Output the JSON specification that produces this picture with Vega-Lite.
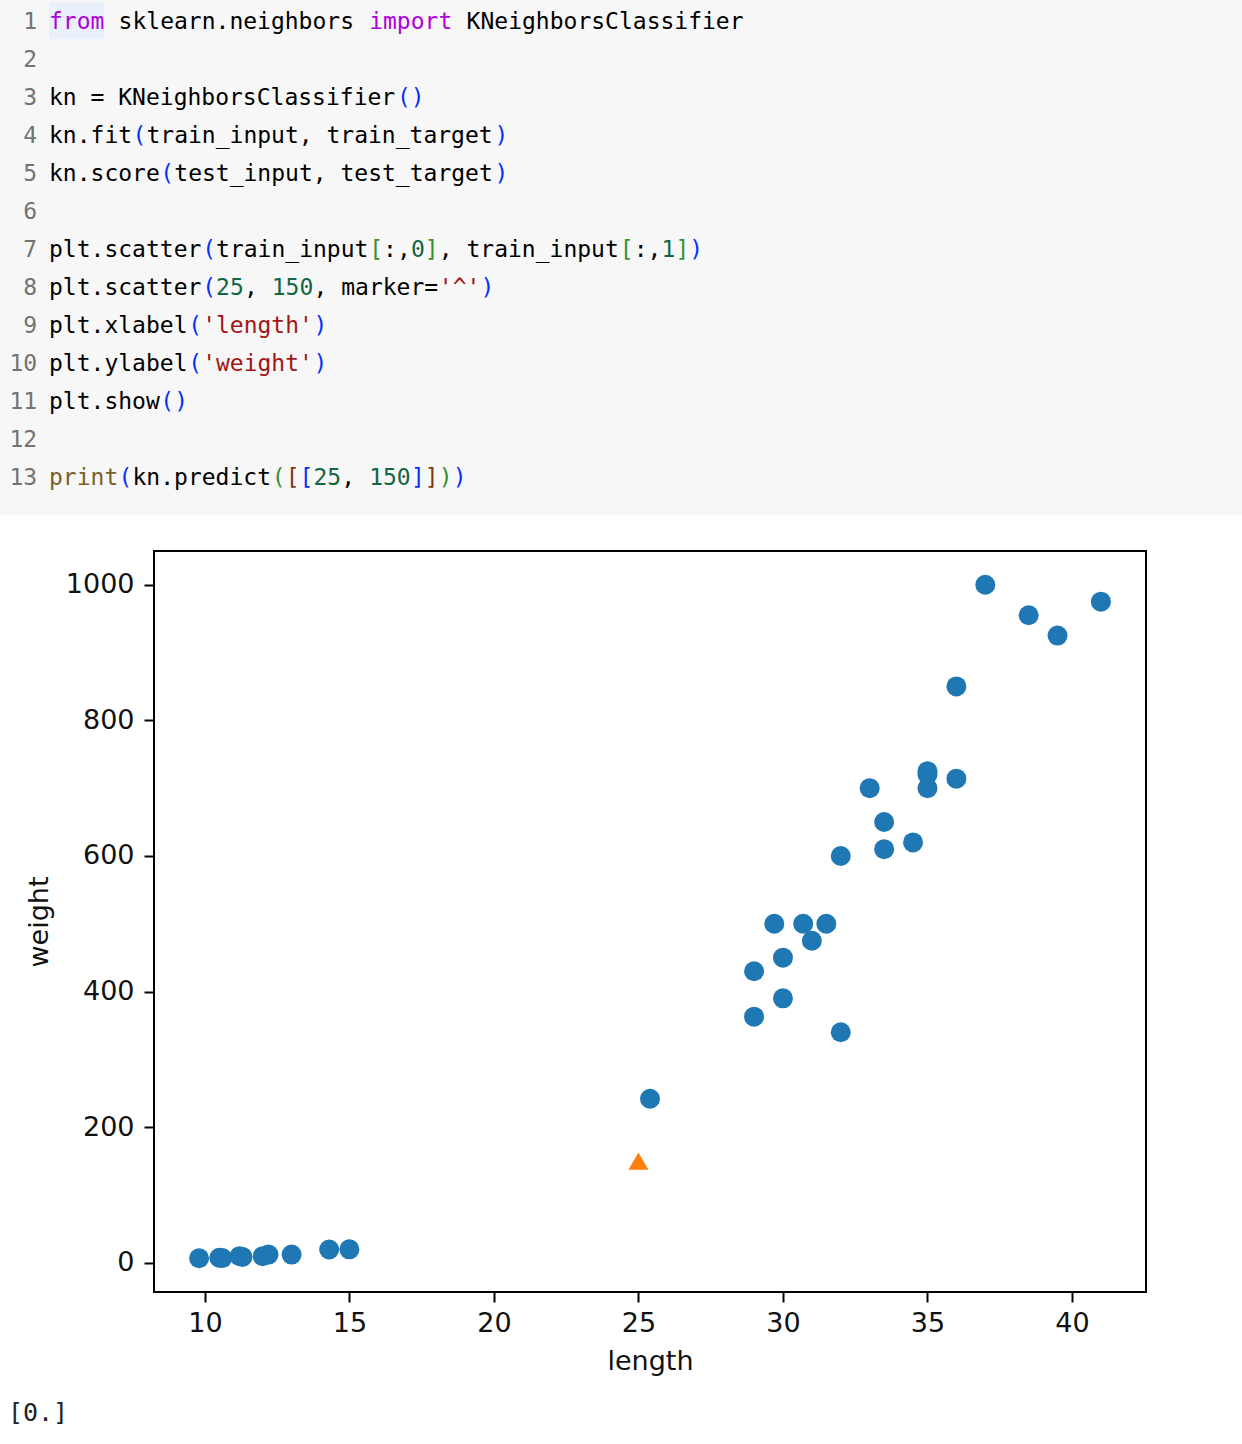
{
  "$schema": "https://vega.github.io/schema/vega-lite/v6.json",
  "padding": 0,
  "background": "white",
  "spacing": 0,
  "config": {
    "view": {"stroke": null},
    "concat": {"spacing": 0}
  },
  "datasets": {
    "code": [
      {"line": 1, "col": 0, "tok": "from", "kind": "kw"},
      {"line": 1, "col": 5, "tok": "sklearn.neighbors", "kind": "t"},
      {"line": 1, "col": 23, "tok": "import", "kind": "kw"},
      {"line": 1, "col": 30, "tok": "KNeighborsClassifier", "kind": "t"},
      {"line": 3, "col": 0, "tok": "kn = KNeighborsClassifier", "kind": "t"},
      {"line": 3, "col": 25, "tok": "()", "kind": "b1"},
      {"line": 4, "col": 0, "tok": "kn.fit", "kind": "t"},
      {"line": 4, "col": 6, "tok": "(", "kind": "b1"},
      {"line": 4, "col": 7, "tok": "train_input, train_target", "kind": "t"},
      {"line": 4, "col": 32, "tok": ")", "kind": "b1"},
      {"line": 5, "col": 0, "tok": "kn.score", "kind": "t"},
      {"line": 5, "col": 8, "tok": "(", "kind": "b1"},
      {"line": 5, "col": 9, "tok": "test_input, test_target", "kind": "t"},
      {"line": 5, "col": 32, "tok": ")", "kind": "b1"},
      {"line": 7, "col": 0, "tok": "plt.scatter", "kind": "t"},
      {"line": 7, "col": 11, "tok": "(", "kind": "b1"},
      {"line": 7, "col": 12, "tok": "train_input", "kind": "t"},
      {"line": 7, "col": 23, "tok": "[", "kind": "b2"},
      {"line": 7, "col": 24, "tok": ":,", "kind": "t"},
      {"line": 7, "col": 26, "tok": "0", "kind": "num"},
      {"line": 7, "col": 27, "tok": "]", "kind": "b2"},
      {"line": 7, "col": 28, "tok": ", train_input", "kind": "t"},
      {"line": 7, "col": 41, "tok": "[", "kind": "b2"},
      {"line": 7, "col": 42, "tok": ":,", "kind": "t"},
      {"line": 7, "col": 44, "tok": "1", "kind": "num"},
      {"line": 7, "col": 45, "tok": "]", "kind": "b2"},
      {"line": 7, "col": 46, "tok": ")", "kind": "b1"},
      {"line": 8, "col": 0, "tok": "plt.scatter", "kind": "t"},
      {"line": 8, "col": 11, "tok": "(", "kind": "b1"},
      {"line": 8, "col": 12, "tok": "25", "kind": "num"},
      {"line": 8, "col": 14, "tok": ",", "kind": "t"},
      {"line": 8, "col": 16, "tok": "150", "kind": "num"},
      {"line": 8, "col": 19, "tok": ", marker=", "kind": "t"},
      {"line": 8, "col": 28, "tok": "'^'", "kind": "str"},
      {"line": 8, "col": 31, "tok": ")", "kind": "b1"},
      {"line": 9, "col": 0, "tok": "plt.xlabel", "kind": "t"},
      {"line": 9, "col": 10, "tok": "(", "kind": "b1"},
      {"line": 9, "col": 11, "tok": "'length'", "kind": "str"},
      {"line": 9, "col": 19, "tok": ")", "kind": "b1"},
      {"line": 10, "col": 0, "tok": "plt.ylabel", "kind": "t"},
      {"line": 10, "col": 10, "tok": "(", "kind": "b1"},
      {"line": 10, "col": 11, "tok": "'weight'", "kind": "str"},
      {"line": 10, "col": 19, "tok": ")", "kind": "b1"},
      {"line": 11, "col": 0, "tok": "plt.show", "kind": "t"},
      {"line": 11, "col": 8, "tok": "()", "kind": "b1"},
      {"line": 13, "col": 0, "tok": "print", "kind": "fn"},
      {"line": 13, "col": 5, "tok": "(", "kind": "b1"},
      {"line": 13, "col": 6, "tok": "kn.predict", "kind": "t"},
      {"line": 13, "col": 16, "tok": "(", "kind": "b2"},
      {"line": 13, "col": 17, "tok": "[", "kind": "b3"},
      {"line": 13, "col": 18, "tok": "[", "kind": "b1"},
      {"line": 13, "col": 19, "tok": "25", "kind": "num"},
      {"line": 13, "col": 21, "tok": ",", "kind": "t"},
      {"line": 13, "col": 23, "tok": "150", "kind": "num"},
      {"line": 13, "col": 26, "tok": "]", "kind": "b1"},
      {"line": 13, "col": 27, "tok": "]", "kind": "b3"},
      {"line": 13, "col": 28, "tok": ")", "kind": "b2"},
      {"line": 13, "col": 29, "tok": ")", "kind": "b1"}
    ],
    "lineNumbers": [
      {"line": 1, "col": -0.85, "tok": "1"},
      {"line": 2, "col": -0.85, "tok": "2"},
      {"line": 3, "col": -0.85, "tok": "3"},
      {"line": 4, "col": -0.85, "tok": "4"},
      {"line": 5, "col": -0.85, "tok": "5"},
      {"line": 6, "col": -0.85, "tok": "6"},
      {"line": 7, "col": -0.85, "tok": "7"},
      {"line": 8, "col": -0.85, "tok": "8"},
      {"line": 9, "col": -0.85, "tok": "9"},
      {"line": 10, "col": -0.85, "tok": "10"},
      {"line": 11, "col": -0.85, "tok": "11"},
      {"line": 12, "col": -0.85, "tok": "12"},
      {"line": 13, "col": -0.85, "tok": "13"}
    ],
    "train": [
      {"length": 25.4, "weight": 242},
      {"length": 29.0, "weight": 363},
      {"length": 29.0, "weight": 430},
      {"length": 29.7, "weight": 500},
      {"length": 30.0, "weight": 390},
      {"length": 30.0, "weight": 450},
      {"length": 30.7, "weight": 500},
      {"length": 31.0, "weight": 475},
      {"length": 31.5, "weight": 500},
      {"length": 32.0, "weight": 340},
      {"length": 32.0, "weight": 600},
      {"length": 33.0, "weight": 700},
      {"length": 33.5, "weight": 610},
      {"length": 33.5, "weight": 650},
      {"length": 34.5, "weight": 620},
      {"length": 35.0, "weight": 700},
      {"length": 35.0, "weight": 720},
      {"length": 35.0, "weight": 725},
      {"length": 36.0, "weight": 714},
      {"length": 36.0, "weight": 850},
      {"length": 37.0, "weight": 1000},
      {"length": 38.5, "weight": 955},
      {"length": 39.5, "weight": 925},
      {"length": 41.0, "weight": 975},
      {"length": 9.8, "weight": 6.7},
      {"length": 10.5, "weight": 7.5},
      {"length": 10.6, "weight": 7.0},
      {"length": 11.2, "weight": 9.8},
      {"length": 11.3, "weight": 8.7},
      {"length": 12.0, "weight": 9.8},
      {"length": 12.2, "weight": 12.2},
      {"length": 13.0, "weight": 12.2},
      {"length": 14.3, "weight": 19.7},
      {"length": 15.0, "weight": 19.9}
    ]
  },
  "vconcat": [
    {
      "spacing": 35,
      "vconcat": [
        {
          "width": 1242,
          "height": 515,
          "view": {"fill": "#f7f7f7", "stroke": null},
          "layer": [
            {
              "data": {"values": [{"start": 0, "end": 4, "top": 0.48, "bottom": 1.45}]},
              "mark": {"type": "rect", "color": "#eaf0fb"},
              "encoding": {
                "x": {"field": "start", "type": "quantitative", "scale": {"domain": [-3.52, 85.7], "nice": false, "zero": false}, "axis": null},
                "x2": {"field": "end"},
                "y": {"field": "top", "type": "quantitative", "scale": {"domain": [0.42, 13.97], "nice": false, "zero": false, "reverse": true}, "axis": null},
                "y2": {"field": "bottom"}
              }
            },
            {
              "data": {"name": "lineNumbers"},
              "mark": {"type": "text", "align": "right", "baseline": "middle", "font": "DejaVu Sans Mono", "fontSize": 23, "color": "#737373"},
              "encoding": {
                "x": {"field": "col", "type": "quantitative", "scale": {"domain": [-3.52, 85.7], "nice": false, "zero": false}, "axis": null},
                "y": {"field": "line", "type": "quantitative", "scale": {"domain": [0.42, 13.97], "nice": false, "zero": false, "reverse": true}, "axis": null},
                "text": {"field": "tok"}
              }
            },
            {
              "data": {"name": "code"},
              "mark": {"type": "text", "align": "left", "baseline": "middle", "font": "DejaVu Sans Mono", "fontSize": 23},
              "encoding": {
                "x": {"field": "col", "type": "quantitative", "scale": {"domain": [-3.52, 85.7], "nice": false, "zero": false}, "axis": null},
                "y": {"field": "line", "type": "quantitative", "scale": {"domain": [0.42, 13.97], "nice": false, "zero": false, "reverse": true}, "axis": null},
                "text": {"field": "tok"},
                "color": {
                  "field": "kind",
                  "type": "nominal",
                  "legend": null,
                  "scale": {
                    "domain": ["t", "kw", "b1", "b2", "b3", "num", "str", "fn"],
                    "range": ["#000000", "#af00db", "#0431fa", "#319331", "#7b3814", "#116644", "#a31515", "#795e26"]
                  }
                }
              }
            }
          ]
        },
        {
          "spacing": 0,
          "hconcat": [
            {
              "width": 24,
              "height": 1,
              "view": {"stroke": null},
              "data": {"values": []},
              "mark": "point",
              "encoding": {}
            },
            {
              "width": 992,
              "height": 741,
              "view": {"stroke": "#000000", "strokeWidth": 2},
              "layer": [
                {
                  "data": {"name": "train"},
                  "mark": {"type": "point", "shape": "circle", "filled": true, "size": 400, "color": "#1f77b4", "opacity": 1},
                  "encoding": {
                    "x": {
                      "field": "length",
                      "type": "quantitative",
                      "scale": {"domain": [8.24, 42.56], "nice": false, "zero": false},
                      "axis": {
                        "title": "length",
                        "values": [10, 15, 20, 25, 30, 35, 40],
                        "format": "d",
                        "grid": false,
                        "domain": false,
                        "tickSize": 10,
                        "tickWidth": 2,
                        "tickColor": "#000000",
                        "labelFont": "DejaVu Sans",
                        "labelFontSize": 27,
                        "labelColor": "#111111",
                        "labelPadding": 8,
                        "labelFlush": false,
                        "titleFont": "DejaVu Sans",
                        "titleFontSize": 27,
                        "titleFontWeight": "normal",
                        "titleColor": "#111111",
                        "titlePadding": 12
                      }
                    },
                    "y": {
                      "field": "weight",
                      "type": "quantitative",
                      "scale": {"domain": [-43, 1049.7], "nice": false, "zero": false},
                      "axis": {
                        "title": "weight",
                        "values": [0, 200, 400, 600, 800, 1000],
                        "format": "d",
                        "grid": false,
                        "domain": false,
                        "tickSize": 10,
                        "tickWidth": 2,
                        "tickColor": "#000000",
                        "labelFont": "DejaVu Sans",
                        "labelFontSize": 27,
                        "labelColor": "#111111",
                        "labelPadding": 10,
                        "labelFlush": false,
                        "titleFont": "DejaVu Sans",
                        "titleFontSize": 27,
                        "titleFontWeight": "normal",
                        "titleColor": "#111111",
                        "titlePadding": 12
                      }
                    }
                  }
                },
                {
                  "data": {"values": [{"length": 25, "weight": 150}]},
                  "mark": {"type": "point", "shape": "triangle-up", "filled": true, "size": 400, "color": "#ff7f0e", "opacity": 1},
                  "encoding": {
                    "x": {"field": "length", "type": "quantitative"},
                    "y": {"field": "weight", "type": "quantitative"}
                  }
                }
              ]
            }
          ]
        }
      ]
    },
    {
      "width": 1242,
      "height": 76,
      "view": {"stroke": null},
      "data": {"values": [{"col": -2.95, "line": 1, "tok": "[0.]"}]},
      "mark": {"type": "text", "align": "left", "baseline": "middle", "font": "DejaVu Sans Mono", "fontSize": 25, "color": "#222222"},
      "encoding": {
        "x": {"field": "col", "type": "quantitative", "scale": {"domain": [-3.52, 85.7], "nice": false, "zero": false}, "axis": null},
        "y": {"field": "line", "type": "quantitative", "scale": {"domain": [0, 2], "nice": false, "zero": false}, "axis": null},
        "text": {"field": "tok"}
      }
    }
  ]
}
